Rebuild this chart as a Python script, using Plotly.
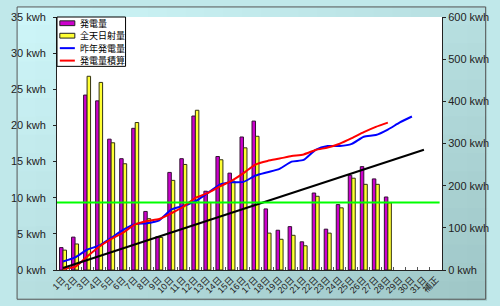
import plotly.graph_objects as go

# ---- data ----
categories = [f"{i}日" for i in range(1, 32)] + ["補正"]
gen_days = categories[:28]
generation = [3.1, 4.55, 24.2, 23.4, 18.1, 15.4, 19.6, 8.1, 4.6, 13.5, 15.4, 21.3, 10.9, 15.7,
              13.4, 18.4, 20.6, 8.45, 5.5, 6.0, 3.9, 10.65, 5.65, 9.05, 13.1, 14.3, 12.6, 10.1]
solar = [2.75, 3.6, 26.8, 25.95, 17.6, 14.7, 20.4, 7.1, 4.5, 12.4, 14.6, 22.1, 9.35, 15.25,
         12.3, 16.9, 18.5, 5.1, 4.25, 4.8, 3.35, 10.2, 5.1, 8.6, 12.7, 11.85, 11.85, 9.3]
cum_generation = [3.1, 7.65, 31.85, 55.25, 73.35, 88.75, 108.35, 116.45, 121.05, 134.55, 149.95,
                  171.25, 182.15, 197.85, 211.25, 229.65, 250.25, 258.7, 264.2, 270.2, 274.1,
                  284.75, 290.4, 299.45, 312.55, 326.85, 339.45, 349.55]
last_year_days = categories[:30]
last_year_cum = [20, 30, 48, 58, 76, 95, 109, 111, 118, 143, 152, 163, 182, 202, 208, 209, 224,
                 232, 240, 257, 261, 285, 294, 294, 299, 316, 320, 333, 350, 364]
target_days = categories[:31]
target_cum = [4.7, 14.0, 23.4, 32.7, 42.1, 51.4, 60.8, 70.1, 79.5, 88.8, 98.2, 107.5, 116.9,
              126.2, 135.6, 144.9, 154.3, 163.6, 173.0, 182.3, 191.7, 201.0, 210.4, 219.7,
              229.1, 238.4, 247.8, 257.1, 266.5, 275.8, 285.2]
daily_target = 9.35
left_ticks = [0, 5, 10, 15, 20, 25, 30, 35]
right_ticks = [0, 100, 200, 300, 400, 500, 600]
legend_names = ["発電量", "全天日射量", "昨年発電量", "発電量積算"]

FONT = "Liberation Sans, Arial, Noto Sans CJK JP, sans-serif"
MAGENTA, YELLOW, BLUE, RED = "#cc00cc", "#ffff33", "#0000ff", "#ff0000"

fig = go.Figure()
fig.add_trace(go.Bar(x=gen_days, y=generation, name=legend_names[0],
                     marker=dict(color=MAGENTA, line=dict(color="#331133", width=1))))
fig.add_trace(go.Bar(x=gen_days, y=solar, name=legend_names[1],
                     marker=dict(color=YELLOW, line=dict(color="#333311", width=1))))
fig.add_trace(go.Scatter(x=last_year_days, y=last_year_cum, name=legend_names[2], yaxis="y2",
                         mode="lines", line=dict(color=BLUE, width=2, shape="spline", smoothing=0.6)))
fig.add_trace(go.Scatter(x=gen_days, y=cum_generation, name=legend_names[3], yaxis="y2",
                         mode="lines", line=dict(color=RED, width=2, shape="spline", smoothing=0.6)))
fig.add_trace(go.Scatter(x=target_days, y=target_cum, name="目標積算", yaxis="y2",
                         mode="lines", line=dict(color="#000000", width=2)))

# geometry helpers (pixel -> paper)
W, H = 500, 306
L, R, T, B = 43, 47, 11, 31
pw, ph = W - L - R, H - T - B
def px(x): return (x - L) / pw
def py(y): return 1 - (y - T) / ph

# background gradient (figure), then white plot area
c0 = (0xcf, 0xf7, 0xfa)
c1 = (0x9e, 0xc6, 0xc6)
shapes = []
nx, ny = 25, 16
for i in range(nx):
    for j in range(ny):
        t = 0.5 * (i + 0.5) / nx + 0.5 * (j + 0.5) / ny
        col = "rgb(%d,%d,%d)" % tuple(round(a + (b - a) * t) for a, b in zip(c0, c1))
        shapes.append(dict(type="rect", xref="paper", yref="paper", layer="below",
                           x0=px(i * W / nx), x1=px((i + 1) * W / nx + 1),
                           y0=py((j + 1) * H / ny + 1), y1=py(j * H / ny),
                           fillcolor=col, line=dict(width=0)))
shapes.append(dict(type="rect", xref="paper", yref="paper", layer="below", x0=0, x1=1, y0=0, y1=1,
                   fillcolor="white", line=dict(width=0)))
# outer frame
shapes.append(dict(type="rect", xref="paper", yref="paper", layer="above",
                   x0=px(0.5), x1=px(W - 0.5), y0=py(H - 0.5), y1=py(0.5),
                   fillcolor="rgba(0,0,0,0)", line=dict(color="#555555", width=1)))
# daily target line
shapes.append(dict(type="line", xref="x", yref="y", x0=-0.5, x1=31.3, y0=daily_target, y1=daily_target,
                   line=dict(color="#00ff00", width=2), layer="above"))

# custom compact legend
annotations = []
shapes.append(dict(type="rect", xref="paper", yref="paper", layer="above",
                   x0=px(43), x1=px(116), y0=py(62.5), y1=py(11),
                   fillcolor="white", line=dict(color="#000000", width=1)))
item_y = [17.5, 30.5, 43.5, 56.5]
for k, (name, yc) in enumerate(zip(legend_names, item_y)):
    if k < 2:
        shapes.append(dict(type="rect", xref="paper", yref="paper", layer="above",
                           x0=px(46), x1=px(62), y0=py(yc + 2.5), y1=py(yc - 2.5),
                           fillcolor=[MAGENTA, YELLOW][k], line=dict(color="#222222", width=1)))
    else:
        shapes.append(dict(type="line", xref="paper", yref="paper", layer="above",
                           x0=px(46), x1=px(62), y0=py(yc), y1=py(yc),
                           line=dict(color=[BLUE, RED][k - 2], width=2)))
    annotations.append(dict(xref="paper", yref="paper", x=px(65), y=py(yc), text=name,
                            showarrow=False, xanchor="left", yanchor="middle",
                            font=dict(size=9, color="#000000",
                                      family="Noto Sans CJK JP, sans-serif")))

fig.update_layout(
    width=W, height=H, margin=dict(l=L, r=R, t=T, b=B),
    paper_bgcolor="#c0e8ea", plot_bgcolor="white",
    barmode="group", bargap=0.42, bargroupgap=0,
    font=dict(family=FONT, size=11, color="#222222"),
    shapes=shapes, annotations=annotations,
    showlegend=False,
    xaxis=dict(type="category", categoryorder="array", categoryarray=categories,
               range=[-0.5, 31.5], tickangle=-45, tickfont=dict(size=9, color="#222222"),
               showline=True, linecolor="#222222", linewidth=1, showgrid=False,
               ticks="inside", ticklen=3, tickson="boundaries", tickcolor="#555555"),
    yaxis=dict(range=[0, 35], tickvals=left_ticks, ticktext=[f"{v} kwh" for v in left_ticks],
               showline=True, linecolor="#222222", linewidth=1, showgrid=False,
               ticks="outside", ticklen=3, tickcolor="#222222", zeroline=False,
               ticklabelstandoff=5),
    yaxis2=dict(range=[0, 600], overlaying="y", side="right", tickvals=right_ticks,
                ticktext=[f"{v} kwh" for v in right_ticks],
                showline=True, linecolor="#222222", linewidth=1, showgrid=False,
                ticks="outside", ticklen=3, tickcolor="#222222", zeroline=False),
)

fig.write_html("out.html")
